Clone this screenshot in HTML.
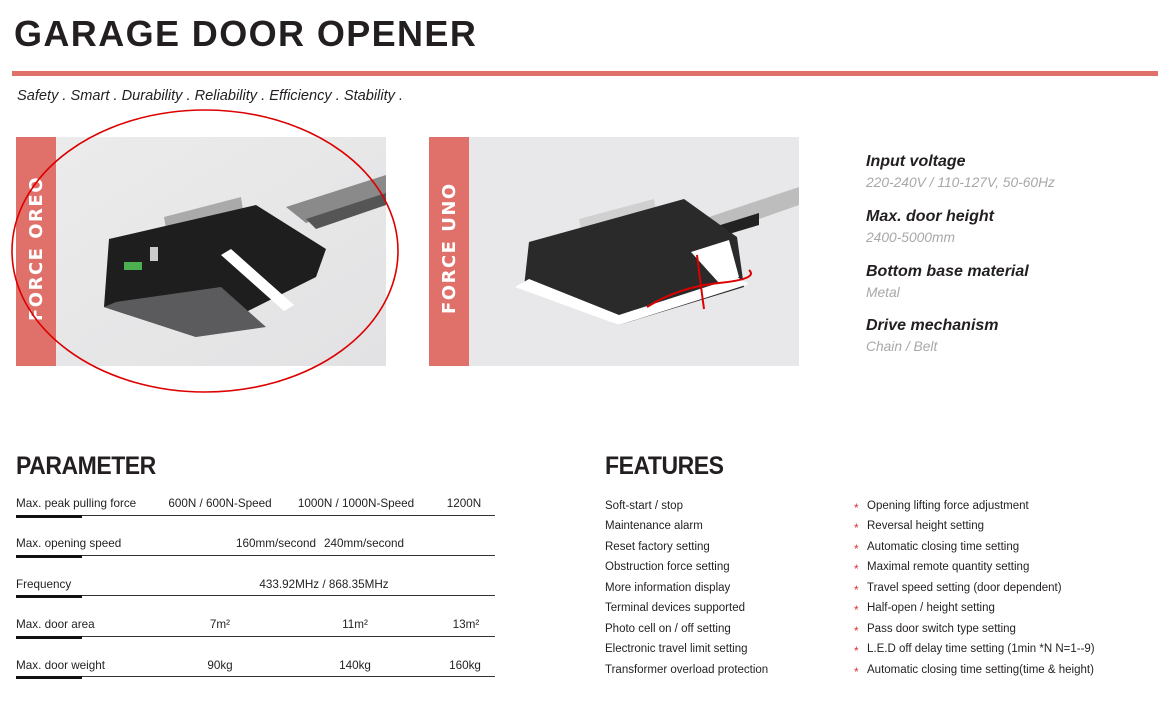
<!DOCTYPE html>
<html><head><meta charset="utf-8"><style>
*{margin:0;padding:0;box-sizing:border-box}
body{width:1165px;height:713px;background:#fff;position:relative;overflow:hidden;font-family:"Liberation Sans",Arial,sans-serif;color:#231f20}
.a{position:absolute;white-space:nowrap}
.title{left:14px;top:16px;font-size:36px;font-weight:bold;letter-spacing:1.4px;line-height:36px}
.bar{left:12px;top:71px;width:1146px;height:5px;background:#e0706a}
.tag{left:17px;top:88px;font-size:14.6px;font-style:italic;line-height:17px}
.side{position:absolute;background:#e0706a;width:40px;height:229px;top:137px}
.vt{position:absolute;color:#fff;font-weight:bold;font-size:18px;letter-spacing:1.5px;transform:rotate(-90deg);transform-origin:left top;white-space:nowrap;font-family:"DejaVu Sans","Liberation Sans",sans-serif}
.h2{font-size:25px;font-weight:bold;line-height:28px;transform:scaleX(0.92);transform-origin:left;letter-spacing:-0.5px}
.p{font-size:11.7px;line-height:14px}
.f{font-size:11.5px}
.c{transform:translateX(-50%)}
.ln{position:absolute;left:16px;width:479px;height:1px;background:#333}
.tk{position:absolute;left:16px;width:66px;height:3px;background:#111}
.st{color:#d33}
.sh{font-size:16px;font-weight:bold;font-style:italic;line-height:18px;left:866px}
.sv{font-size:13.8px;font-style:italic;color:#a8a8a8;line-height:16px;left:866px}
</style></head><body>
<div class="a title">GARAGE DOOR OPENER</div>
<div class="a bar"></div>
<div class="a tag">Safety . Smart . Durability . Reliability . Efficiency . Stability .</div>

<svg class="a" style="left:16px;top:137px" width="370" height="229" viewBox="0 0 370 229">
<defs><linearGradient id="g" x1="0" y1="0" x2="1" y2="1"><stop offset="0" stop-color="#ececec"/><stop offset="1" stop-color="#e2e2e4"/></linearGradient></defs>
<rect width="370" height="229" fill="url(#g)"/>
<polygon points="270,70 370,38 370,58 290,86" fill="#8a8a8a"/>
<polygon points="290,82 370,56 370,68 300,92" fill="#555"/>
<polygon points="148,80 225,60 227,73 150,92" fill="#aaa"/>
<polygon points="93,102 240,68 310,112 300,140 180,200 88,170" fill="#1e1e1e"/>
<polygon points="88,170 180,200 250,190 205,150 100,165" fill="#5b5b5d"/>
<polygon points="205,118 215,112 278,168 268,174" fill="#fff"/>
<rect x="108" y="125" width="18" height="8" fill="#4caf50"/>
<rect x="134" y="110" width="8" height="14" fill="#ccc"/>
</svg>
<div class="side" style="left:16px"></div>
<div class="vt" style="left:26px;top:321px">FORCE OREO</div>

<svg class="a" style="left:429px;top:137px" width="370" height="229" viewBox="0 0 370 229">
<rect width="370" height="229" fill="#e8e8ea"/>
<polygon points="280,80 370,50 370,68 290,96" fill="#bdbdbd"/>
<polygon points="285,90 330,76 330,88 290,100" fill="#222"/>
<polygon points="150,82 225,62 227,74 152,92" fill="#d0d0d0"/>
<polygon points="100,105 255,62 308,100 315,150 190,188 95,150" fill="#2a2a2a"/>
<polygon points="86,150 190,188 320,147 308,140 190,178 100,142" fill="#fff"/>
<polygon points="262,115 300,103 310,140 290,146" fill="#fff"/>
<path d="M218,170 Q250,150 290,146 T320,133" stroke="#d00" stroke-width="2" fill="none"/>
<path d="M268,118 Q272,150 275,172" stroke="#d00" stroke-width="2" fill="none"/>
</svg>
<div class="side" style="left:429px"></div>
<div class="vt" style="left:439px;top:314px">FORCE UNO</div>

<svg class="a" style="left:0;top:100px" width="420" height="310"><ellipse cx="205" cy="151" rx="193" ry="141" fill="none" stroke="#d00" stroke-width="1.6"/></svg>

<div class="a sh" style="top:153px">Input voltage</div>
<div class="a sv" style="top:175px">220-240V / 110-127V, 50-60Hz</div>
<div class="a sh" style="top:208px">Max. door height</div>
<div class="a sv" style="top:230px">2400-5000mm</div>
<div class="a sh" style="top:263px">Bottom base material</div>
<div class="a sv" style="top:285px">Metal</div>
<div class="a sh" style="top:317px">Drive mechanism</div>
<div class="a sv" style="top:339px">Chain / Belt</div>

<div class="a h2" style="left:16px;top:452px">PARAMETER</div>
<div class="a h2" style="left:605px;top:452px">FEATURES</div>

<div class="a p" style="left:16px;top:497px">Max. peak pulling force</div>
<div class="a p c" style="left:220px;top:497px">600N / 600N-Speed</div>
<div class="a p c" style="left:356px;top:497px">1000N / 1000N-Speed</div>
<div class="a p c" style="left:464px;top:497px">1200N</div>
<div class="ln" style="top:515px"></div><div class="tk" style="top:515px"></div>

<div class="a p" style="left:16px;top:537px">Max. opening speed</div>
<div class="a p c" style="left:276px;top:537px">160mm/second</div>
<div class="a p c" style="left:364px;top:537px">240mm/second</div>
<div class="ln" style="top:555px"></div><div class="tk" style="top:555px"></div>

<div class="a p" style="left:16px;top:578px">Frequency</div>
<div class="a p c" style="left:324px;top:578px">433.92MHz / 868.35MHz</div>
<div class="ln" style="top:595px"></div><div class="tk" style="top:595px"></div>

<div class="a p" style="left:16px;top:618px">Max. door area</div>
<div class="a p c" style="left:220px;top:618px">7m²</div>
<div class="a p c" style="left:355px;top:618px">11m²</div>
<div class="a p c" style="left:466px;top:618px">13m²</div>
<div class="ln" style="top:636px"></div><div class="tk" style="top:636px"></div>

<div class="a p" style="left:16px;top:659px">Max. door weight</div>
<div class="a p c" style="left:220px;top:659px">90kg</div>
<div class="a p c" style="left:355px;top:659px">140kg</div>
<div class="a p c" style="left:465px;top:659px">160kg</div>
<div class="ln" style="top:676px"></div><div class="tk" style="top:676px"></div>

<div class="a p f" style="left:605px;top:496px;line-height:20.45px">Soft-start / stop<br>Maintenance alarm<br>Reset factory setting<br>Obstruction force setting<br>More information display<br>Terminal devices supported<br>Photo cell on / off setting<br>Electronic travel limit setting<br>Transformer overload protection</div>
<div class="a p st" style="left:854px;top:498px;line-height:20.45px;font-size:12px">*<br>*<br>*<br>*<br>*<br>*<br>*<br>*<br>*</div>
<div class="a p f" style="left:867px;top:496px;line-height:20.45px">Opening lifting force adjustment<br>Reversal height setting<br>Automatic closing time setting<br>Maximal remote quantity setting<br>Travel speed setting (door dependent)<br>Half-open / height setting<br>Pass door switch type setting<br>L.E.D off delay time setting (1min *N N=1--9)<br>Automatic closing time setting(time &amp; height)</div>
</body></html>
